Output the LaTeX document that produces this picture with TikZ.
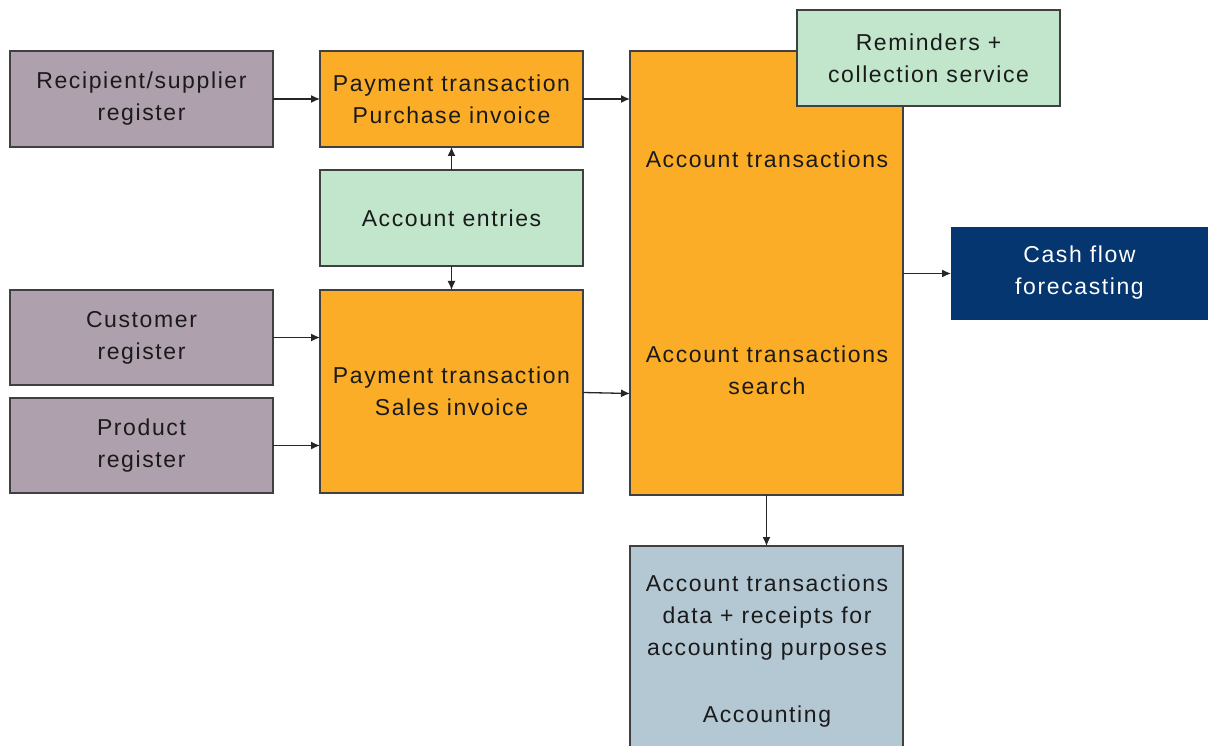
\documentclass[tikz,border=0pt]{standalone}
\usepackage{fontspec}
\setmainfont{Liberation Sans}[LetterSpace=7]
\usetikzlibrary{arrows.meta}
\definecolor{purp}{HTML}{AEA0AC}
\definecolor{orng}{HTML}{FBAD27}
\definecolor{mint}{HTML}{C1E6CC}
\definecolor{navy}{HTML}{063670}
\definecolor{slate}{HTML}{B4C8D4}
\definecolor{edge}{HTML}{404040}
\definecolor{txt}{HTML}{1A1A1A}
\tikzset{
  box/.style={draw=edge, line width=1.4pt, inner sep=0pt, outer sep=0pt},
  lbl/.style={text=txt, align=center, font=\fontsize{23}{32}\selectfont, inner sep=0pt},
  conn/.style={draw=black!85, line width=1.3pt, -{Latex[length=9pt,width=8pt]}},
}
\begin{document}
\begin{tikzpicture}[x=1pt,y=-1pt]
\useasboundingbox (0,0) rectangle (1208,746);
\clip (0,0) rectangle (1208,746);
% boxes
\node[box, fill=purp, minimum width=263pt, minimum height=96pt, anchor=north west] (rs) at (10,51) {};
\node[lbl] at (rs.center) {Recipient/supplier\\register};
\node[box, fill=orng, minimum width=263pt, minimum height=96pt, anchor=north west] (pp) at (320,51) {};
\node[lbl] at (pp.center) {Payment transaction\\Purchase invoice};
\node[box, fill=mint, minimum width=263pt, minimum height=96pt, anchor=north west] (ae) at (320,170) {};
\node[lbl] at (ae.center) {Account entries};
\node[box, fill=purp, minimum width=263pt, minimum height=95pt, anchor=north west] (cr) at (10,290) {};
\node[lbl] at (cr.center) {Customer\\register};
\node[box, fill=purp, minimum width=263pt, minimum height=95pt, anchor=north west] (pr) at (10,398) {};
\node[lbl] at (pr.center) {Product\\register};
\node[box, fill=orng, minimum width=263pt, minimum height=203pt, anchor=north west] (ps) at (320,290) {};
\node[lbl] at (ps.center) {Payment transaction\\Sales invoice};
\node[box, fill=orng, minimum width=273pt, minimum height=444pt, anchor=north west] (at) at (630,51) {};
\node[lbl] (at1) at (767,159) {Account transactions};
\node[lbl] (at2) at (767,370) {Account transactions\\search};
\node[box, fill=mint, minimum width=263pt, minimum height=96pt, anchor=north west] (rc) at (797,10) {};
\node[lbl] at (rc.center) {Reminders +\\collection service};
\node[box, draw=none, fill=navy, minimum width=257pt, minimum height=93pt, anchor=north west] (cf) at (951,227) {};
\node[lbl, text=white] at ([yshift=1pt]cf.center) {Cash flow\\forecasting};
\node[box, fill=slate, minimum width=273pt, minimum height=220pt, anchor=north west] (ac) at (630,546) {};
\node[lbl, anchor=north] at (767,575) {Account transactions\\data + receipts for\\accounting purposes\\[3pt] \\Accounting};
% connectors
\draw[conn] (rs.east) -- (pp.west);
\draw[conn] (pp.east) -- (pp.east -| at.west);
\draw[conn] (ae.north) -- (pp.south);
\draw[conn] (ae.south) -- (ps.north);
\draw[conn] (cr.east) -- (cr.east -| ps.west);
\draw[conn] (pr.east) -- (pr.east -| ps.west);
\draw[conn] ([yshift=-1pt]ps.east) -- ([yshift=-2pt]ps.east -| at.west);
\draw[conn] (at.east |- cf.west) -- (cf.west);
\draw[conn] (at.south) -- (ac.north);
\end{tikzpicture}
\end{document}
